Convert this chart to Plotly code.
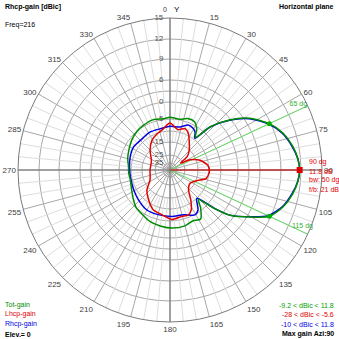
import numpy as np
import plotly.graph_objects as go

# ---- data (dBic vs azimuth, compass degrees) ----
tot_theta = [0, 11, 19, 27, 33, 38, 43, 50, 57, 65, 72, 79, 85, 90, 95, 101, 108, 115, 120, 127, 131, 136,
             141, 148, 156, 165, 178, 190, 201, 212, 222, 232, 244, 256, 266, 275, 285, 296, 308, 319, 329, 341, 352]
tot_db = [-4.5, -4.8, -4.0, -4.1, -5.8, -9.0, -2.6, 2.7, 6.7, 8.8, 10.2, 11.1, 11.6, 11.8, 11.6, 11.1, 10.2, 8.8,
          6.6, 2.0, -2.8, -9.2, -6.0, -3.0, -3.6, -3.0, -2.9, -3.3, -3.7, -4.6, -5.2, -6.8, -8.4, -9.2, -9.0,
          -8.9, -8.0, -7.2, -6.0, -5.1, -4.7, -4.4, -4.8]

rhcp_theta = [0, 13, 22, 29, 34, 38, 43, 50, 57, 65, 72, 79, 85, 90, 95, 101, 108, 115, 120, 127, 131, 136.5,
              145, 151, 163, 178, 195, 210, 227, 241, 260, 275, 288, 302, 315, 332, 346]
rhcp_db = [-8.0, -7.9, -6.0, -6.4, -7.5, -9.5, -2.7, 2.6, 6.6, 8.7, 10.1, 11.0, 11.6, 11.8, 11.6, 11.0, 10.1, 8.6,
           6.5, 1.9, -3.0, -10.0, -5.9, -4.9, -6.8, -6.9, -7.0, -7.0, -8.2, -9.0, -9.5, -9.3, -8.8, -8.3, -8.8,
           -8.4, -8.6]

lhcp_theta = [0, 11, 20, 27, 36, 44, 52, 57, 63, 72, 83, 92, 103, 112, 124, 137, 145, 152, 158, 166, 178, 190,
              203, 216, 229, 243, 270, 297, 315, 329, 341, 348]
lhcp_db = [-6.7, -9.1, -7.9, -9.3, -12.8, -15.2, -19.8, -28.0, -19.3, -13.4, -10.4, -9.8, -10.8, -14.7, -18.1,
           -15.7, -11.3, -7.4, -6.0, -6.3, -5.6, -7.3, -8.3, -11.1, -13.8, -19.3, -21.2, -20.5, -14.9, -11.9,
           -10.2, -9.4]

half_power_theta = [65, 115]
half_power_db = [8.8, 8.8]
max_theta = 90
max_db = 11.8

grid_db = [15, 12, 9, 6, 3, 0, -5, -10, -15, -25, -35]
label_db = [15, 12, 9, 6, 0, -5, -15, -25, -35]
ang_ticks = list(range(0, 360, 15))

# ---- MMANA-like non-linear radial scale (dB -> radius units) ----
scale_db = [-45, -35, -25, -15, -10, -5, 0, 3, 6, 9, 12, 15]
scale_r = [0, 7, 15, 28, 39, 51, 68, 79, 90, 111, 131, 152]


def R(db):
    return np.interp(np.asarray(db, dtype=float), scale_db, scale_r)


def closed(t, d):
    return list(t) + [t[0]], list(R(d)) + [R(d[0])]


RMAX = 152
GREEN = "#008c00"
RED = "#e00000"
BLUE = "#0000e0"
LGREEN = "#5ed65e"

fig = go.Figure()

# minor spokes every 5 degrees
for a in range(0, 360, 5):
    if a % 15 == 0:
        continue
    fig.add_trace(go.Scatterpolar(theta=[a, a], r=[R(-15), RMAX], mode="lines",
                                  line=dict(color="#dcdcdc", width=1), hoverinfo="skip", showlegend=False))
# main axes
for a in (0, 90, 180, 270):
    fig.add_trace(go.Scatterpolar(theta=[a, a], r=[0, RMAX], mode="lines",
                                  line=dict(color="#6e6e6e", width=1), hoverinfo="skip", showlegend=False))

# half-power lines
for a in half_power_theta:
    fig.add_trace(go.Scatterpolar(theta=[a, a], r=[0, RMAX], mode="lines",
                                  line=dict(color=LGREEN, width=1), hoverinfo="skip", showlegend=False))
# max gain line
fig.add_trace(go.Scatterpolar(theta=[max_theta, max_theta], r=[0, R(max_db)], mode="lines",
                              line=dict(color=RED, width=1), hoverinfo="skip", showlegend=False))

# radial labels
fig.add_trace(go.Scatterpolar(theta=[0] * len(label_db), r=R(label_db), mode="text",
                              text=["%d   " % v for v in label_db], textposition="middle left",
                              textfont=dict(size=8, color="#505050", family="Liberation Sans"),
                              hoverinfo="skip", showlegend=False, cliponaxis=False))

# patterns
t, r = closed(rhcp_theta, rhcp_db)
fig.add_trace(go.Scatterpolar(theta=t, r=r, mode="lines", line=dict(color=BLUE, width=1.5, shape="spline", smoothing=0.7),
                              showlegend=False))
t, r = closed(tot_theta, tot_db)
fig.add_trace(go.Scatterpolar(theta=t, r=r, mode="lines", line=dict(color=GREEN, width=1.5, shape="spline", smoothing=0.7),
                              showlegend=False))
t, r = closed(lhcp_theta, lhcp_db)
fig.add_trace(go.Scatterpolar(theta=t, r=r, mode="lines", line=dict(color=RED, width=1.5, shape="spline", smoothing=0.7),
                              showlegend=False))

# markers
fig.add_trace(go.Scatterpolar(theta=half_power_theta, r=R(half_power_db), mode="markers",
                              marker=dict(color="#00b000", size=5), showlegend=False))
fig.add_trace(go.Scatterpolar(theta=[max_theta], r=R([max_db]), mode="markers",
                              marker=dict(color=RED, size=6, symbol="square"), showlegend=False))

# half power labels
fig.add_trace(go.Scatterpolar(theta=[63, 113], r=[RMAX - 8, RMAX - 8], mode="text",
                              text=["65 dg", "115 dg"], textposition="middle center",
                              textfont=dict(size=7, color="#30b030", family="Liberation Sans"),
                              showlegend=False, cliponaxis=False))

fig.update_layout(
    width=339, height=339, margin=dict(l=0, r=0, t=0, b=0), autosize=False,
    paper_bgcolor="white", plot_bgcolor="white", showlegend=False,
    polar=dict(
        domain=dict(x=[18 / 339, 322 / 339], y=[17 / 339, 321 / 339]),
        bgcolor="white",
        radialaxis=dict(range=[0, RMAX], tickvals=list(R(grid_db)), showticklabels=False,
                        ticks="", showline=False, gridcolor="#a8a8a8", gridwidth=1),
        angularaxis=dict(rotation=90, direction="clockwise", tickvals=ang_ticks,
                         ticktext=["" if a == 0 else str(a) for a in ang_ticks], ticks="",
                         tickfont=dict(size=8, color="#404040", family="Liberation Sans"),
                         showline=True, linecolor="#7a7a7a", linewidth=1,
                         gridcolor="#a8a8a8", gridwidth=1),
    ),
    font=dict(family="Liberation Sans"),
)

ann = []


def T(x, y, s, color="black", size=8, bold=False, xanchor="left"):
    ann.append(dict(x=x / 339, y=1 - y / 339, xref="paper", yref="paper", text=("<b>%s</b>" % s) if bold else s,
                    showarrow=False, xanchor=xanchor, yanchor="middle",
                    font=dict(size=size, color=color, family="Liberation Sans")))


T(3, 7, "Rhcp-gain [dBic]", bold=True, size=7)
T(3, 25, "Freq=216", size=7)
T(336, 7, "Horizontal plane", bold=True, size=7, xanchor="right")
T(161, 9, "0", "#404040", 7)
T(172, 9, "Y", size=8)
T(3, 305, "Tot-gain", GREEN, 7)
T(3, 314, "Lhcp-gain", RED, 7)
T(3, 324, "Rhcp-gain", BLUE, 7)
T(3, 334, "Elev.= 0", "black", 7, bold=True)
T(336, 305, "-9.2 &lt; dBic &lt; 11.8", "#00a000", 7, xanchor="right")
T(336, 314, "-28 &lt; dBic &lt; -5.6", RED, 7, xanchor="right")
T(336, 324, "-10 &lt; dBic &lt; 11.8", BLUE, 7, xanchor="right")
T(336, 334, "Max gain Azi:90", "black", 7, bold=True, xanchor="right")
T(307, 162, "90 dg", RED, 7)
T(307, 171, "11.8 dB", RED, 7)
T(307, 180, "bw: 50 dg", RED, 7)
T(307, 189, "f/b: 21 dB", RED, 7)
fig.update_layout(annotations=ann)

fig.write_html("out.html")
